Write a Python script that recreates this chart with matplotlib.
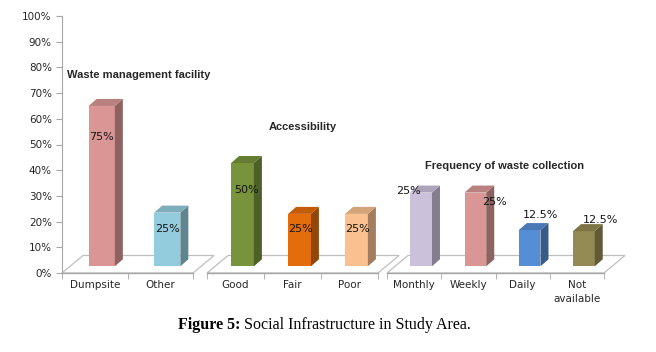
import matplotlib.pyplot as plt
from matplotlib.patches import Polygon
from matplotlib import colors as mcolors

plt.rcParams['font.family'] = ['DejaVu Sans']

# data
groups = ['Waste management facility', 'Accessibility', 'Frequency of waste collection']
categories = [['Dumpsite', 'Other'],
              ['Good', 'Fair', 'Poor'],
              ['Monthly', 'Weekly', 'Daily', 'Not\navailable']]
bar_pct = [[65, 23.5], [42.8, 23, 23], [31.3, 31.3, 16.7, 16.3]]   # bar tops as drawn against the axis
label_txt = [['75%', '25%'], ['50%', '25%', '25%'], ['25%', '25%', '12.5%', '12.5%']]
bar_colors = [['#D99694', '#93CDDD'],
              ['#77933C', '#E46C0A', '#FAC090'],
              ['#CCC1DA', '#D99694', '#558ED5', '#948A54']]

# layout (pixel units along x)
group_start = [62, 207, 387]
cat_width = [65.5, 57, 54.25]
label_off = [[(0, 52.9), (0, 17.1)],
             [(4, 32.3), (1, 17.1), (1, 17.1)],
             [(-13, 32), (19, 27.5), (11, 22.6), (17, 20.6)]]
title_pos = [(138.5, 77), (303, 56.8), (505, 41.6)]

ppy = 2.57          # pixels per percent
base = 6.7 / ppy    # bars sit a little back on the floor
bdx, bdy = 8, 7 / ppy
fdx, fdy = 21, 17.5 / ppy

fig = plt.figure(figsize=(6.56, 3.52), dpi=100)
ax = fig.add_axes([61.5 / 656, 1 - 273 / 352, (650 - 61.5) / 656, (273 - 16) / 352])
ax.set_xlim(61.5, 650)
ax.set_ylim(0, 100)

grey = '#A6A6A6'
txtc = '#262626'
for s in ['top', 'right', 'bottom']:
    ax.spines[s].set_visible(False)
ax.spines['left'].set_color(grey)
ax.set_yticks(range(0, 101, 10))
ax.set_yticklabels([f'{v}%' for v in range(0, 101, 10)])
ax.tick_params(axis='y', length=4, color=grey, labelsize=7.5, labelcolor=txtc, pad=3)

def shade(c, f):
    r, g, b = mcolors.to_rgb(c)
    return (r * f, g * f, b * f)

centers, names, bounds = [], [], []
for gi in range(len(groups)):
    x0 = group_start[gi]
    cw = cat_width[gi]
    n = len(categories[gi])
    x1 = x0 + n * cw
    # floor of the group
    ax.add_patch(Polygon([(x0, 0), (x1, 0), (x1 + fdx, fdy), (x0 + fdx, fdy)], closed=True,
                         fill=False, edgecolor='#BFBFBF', lw=0.9, zorder=1, clip_on=False))
    ax.plot([x0, x1], [0, 0], color=grey, lw=1, zorder=2, clip_on=False)
    bounds += [x0 + i * cw for i in range(n + 1)]
    for i in range(n):
        c = x0 + (i + 0.5) * cw
        centers.append(c)
        names.append(categories[gi][i])
        xc = c + 7
        w = 0.4 * cw
        top = bar_pct[gi][i]
        col = bar_colors[gi][i]
        ax.bar(xc, top - base, bottom=base, width=w, color=col, zorder=3)
        xl, xr = xc - w / 2, xc + w / 2
        ax.add_patch(Polygon([(xr, base), (xr + bdx, base + bdy), (xr + bdx, top + bdy), (xr, top)],
                             closed=True, facecolor=shade(col, 0.65), edgecolor='none', zorder=3))
        ax.add_patch(Polygon([(xl, top), (xl + bdx, top + bdy), (xr + bdx, top + bdy), (xr, top)],
                             closed=True, facecolor=shade(col, 0.85), edgecolor='none', zorder=3))
        dx, ly = label_off[gi][i]
        ax.text(xc + dx, ly, label_txt[gi][i], ha='center', va='center', fontsize=8,
                color='#141414', zorder=5)
    tx, ty = title_pos[gi]
    ax.text(tx, ty, groups[gi], ha='center', va='center', fontsize=8, fontweight='bold',
            family='Liberation Sans', color=txtc)

ax.set_xticks(centers)
ax.set_xticklabels(names)
ax.tick_params(axis='x', length=0, labelsize=7.5, labelcolor=txtc, pad=5)
ax.set_xticks(bounds, minor=True)
ax.tick_params(axis='x', which='minor', length=4, color=grey)
for lab in ax.get_xticklabels():
    lab.set_linespacing(1.45)

# caption
fig.canvas.draw()
r = fig.canvas.get_renderer()
t1 = fig.text(178 / 656, 1 - 325 / 352, 'Figure 5:', fontsize=11.5, fontweight='bold',
              family='Liberation Serif', va='center', ha='left')
bb = t1.get_window_extent(r)
fig.text((bb.x1 + 4) / 656, 1 - 325 / 352, 'Social Infrastructure in Study Area.', fontsize=11.5,
         family='Liberation Serif', va='center', ha='left')

fig.savefig('out.png', dpi=100)
